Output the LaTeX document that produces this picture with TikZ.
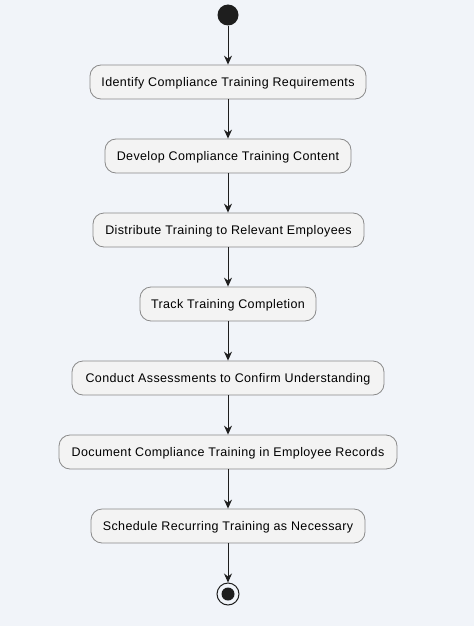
\documentclass[tikz,border=0pt]{standalone}
\usepackage{fontspec}
\setmainfont{Liberation Sans}
\newfontfamily\boxfont[LetterSpace=3]{Liberation Sans}
\usetikzlibrary{arrows.meta}
\definecolor{bg}{HTML}{F1F4F9}
\definecolor{boxfill}{HTML}{F3F3F3}
\definecolor{boxline}{HTML}{8A8A8A}
\definecolor{ink}{HTML}{1E1E1E}
\begin{document}
\begin{tikzpicture}[x=1pt,y=-1pt,
  stepbox/.style={draw=boxline,fill=boxfill,line width=0.8pt,rounded corners=11pt,
    minimum height=34pt,inner sep=0pt,text height=10.5pt,text depth=2.5pt,
    font=\boxfont\fontsize{12.5}{14}\selectfont,text=black},
  flow/.style={draw=ink,line width=0.9pt,-{Stealth[length=9pt,width=8pt,inset=3pt]}}]
\fill[bg] (0,0) rectangle (474,626);
\useasboundingbox (0,0) rectangle (474,626);
\node[circle,fill=ink,minimum size=21pt,inner sep=0pt] (start) at (228,15) {};
\node[stepbox,minimum width=276pt] (s1) at (228,82) {Identify Compliance Training Requirements};
\node[stepbox,minimum width=246pt] (s2) at (228,156) {Develop Compliance Training Content};
\node[stepbox,minimum width=271pt] (s3) at (228.5,230) {Distribute Training to Relevant Employees};
\node[stepbox,minimum width=176pt] (s4) at (228,304) {Track Training Completion};
\node[stepbox,minimum width=312pt] (s5) at (228,378) {Conduct Assessments to Confirm Understanding};
\node[stepbox,minimum width=338pt] (s6) at (228,452) {Document Compliance Training in Employee Records};
\node[stepbox,minimum width=274pt] (s7) at (228,526) {Schedule Recurring Training as Necessary};
\node[circle,draw=ink,line width=1pt,fill=none,minimum size=22pt,inner sep=0pt] (end) at (228,594) {};
\node[circle,fill=ink,minimum size=13pt,inner sep=0pt] (endin) at (end.center) {};
\draw[flow] (start) -- (s1);
\draw[flow] (s1) -- (s2);
\draw[flow] (s2) -- (s2 |- s3.north);
\draw[flow] (s3.south -| s4) -- (s4);
\draw[flow] (s4) -- (s5);
\draw[flow] (s5) -- (s6);
\draw[flow] (s6) -- (s7);
\draw[flow] (s7) -- (end);
\end{tikzpicture}
\end{document}
